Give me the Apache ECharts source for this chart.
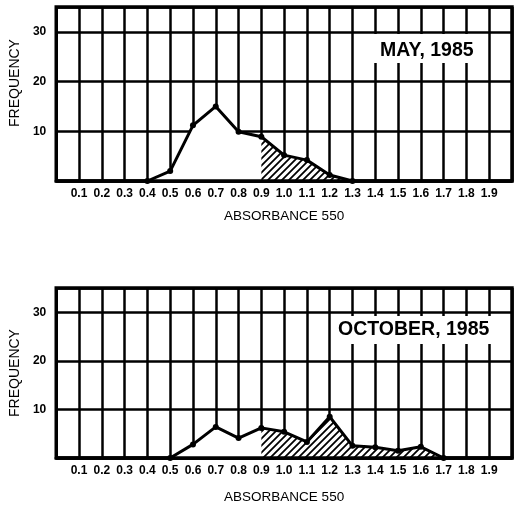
<!DOCTYPE html>
<html>
<head>
<meta charset="utf-8">
<script src="https://cdn.jsdelivr.net/npm/echarts@6/dist/echarts.min.js"></script>
<style>
  html, body { margin: 0; padding: 0; background: #fff; }
  #chart { width: 528px; height: 507px; }
</style>
</head>
<body>
<div id="chart"></div>
<script>
// absorbance classes (x) and frequencies
const mayX = [0.4, 0.5, 0.6, 0.7, 0.8, 0.9, 1.0, 1.1, 1.2, 1.3];
const mayFreq = [0, 2, 11.2, 15, 9.9, 8.9, 5.2, 4.2, 1.2, 0];
const octX = [0.5, 0.6, 0.7, 0.8, 0.9, 1.0, 1.1, 1.2, 1.3, 1.4, 1.5, 1.6, 1.7];
const octFreq = [0, 2.8, 6.4, 4.1, 6.2, 5.4, 3.3, 8.5, 2.5, 2.2, 1.5, 2.3, 0];
const hatchFrom = 0.9;
const yTicks = [10, 20, 30];
const panelTitles = ['MAY, 1985', 'OCTOBER, 1985'];

const FONT = '"Liberation Sans", Arial, sans-serif';

// diagonal hatch pattern with white ground
const makeHatch = () => {
  const s = 7;
  const c = document.createElement('canvas');
  c.width = s; c.height = s;
  const ctx = c.getContext('2d');
  ctx.fillStyle = '#fff';
  ctx.fillRect(0, 0, s, s);
  ctx.strokeStyle = '#000';
  ctx.lineWidth = 1.8;
  ctx.beginPath();
  ctx.moveTo(0, s); ctx.lineTo(s, 0);
  ctx.moveTo(-1, 1); ctx.lineTo(1, -1);
  ctx.moveTo(s - 1, s + 1); ctx.lineTo(s + 1, s - 1);
  ctx.stroke();
  return c;
};
const hatch = makeHatch();

const panels = [
  { xs: mayX, ys: mayFreq, grid: { left: 51, top: 7, width: 461, height: 174 }, namePad: [0, 0, 0, 22], xGap: 28,
    title: { left: 372, top: 34, padding: [7, 5, 2, 8] } },
  { xs: octX, ys: octFreq, grid: { left: 51, top: 288, width: 461, height: 170 }, namePad: 0, xGap: 32,
    title: { left: 333, top: 316, padding: [4, 8, 4, 5] } }
];

const grid = [], xAxis = [], yAxis = [], series = [], title = [];

panels.forEach((p, g) => {
  grid.push({ ...p.grid, show: true, borderColor: '#000', borderWidth: 3.5, backgroundColor: '#fff' });

  xAxis.push({
    type: 'value', gridIndex: g, min: 0, max: 2, interval: 0.1,
    name: 'ABSORBANCE 550', nameLocation: 'middle', nameGap: p.xGap,
    nameTextStyle: { fontFamily: FONT, fontSize: 13.5, color: '#000' },
    axisLine: { show: false }, axisTick: { show: false },
    axisLabel: {
      margin: 7, fontFamily: FONT, fontSize: 12, fontWeight: 'bold', color: '#000',
      formatter: v => (v > 0.05 && v < 1.95) ? v.toFixed(1) : ''
    },
    splitLine: { show: true, lineStyle: { color: '#000', width: 2.5 } }
  });
  // frame line drawn above the filled areas
  xAxis.push({
    type: 'value', gridIndex: g, min: 0, max: 2, position: 'bottom', z: 10,
    axisLine: { show: true, lineStyle: { color: '#000', width: 3.5 } },
    axisTick: { show: false }, axisLabel: { show: false }, splitLine: { show: false }
  });

  yAxis.push({
    type: 'value', gridIndex: g, min: 0, max: 35, interval: 10,
    name: 'FREQUENCY', nameLocation: 'middle', nameGap: 26,
    nameTextStyle: { fontFamily: FONT, fontSize: 14, color: '#000', padding: p.namePad },
    axisLine: { show: false }, axisTick: { show: false },
    axisLabel: {
      margin: 10, fontFamily: FONT, fontSize: 12, fontWeight: 'bold', color: '#000',
      formatter: v => yTicks.includes(v) ? String(v) : ''
    },
    splitLine: { show: true, lineStyle: { color: '#000', width: 2.5 } }
  });

  const pts = p.xs.map((x, i) => [x, p.ys[i]]);
  const hatched = pts.filter(d => d[0] >= hatchFrom - 1e-9);

  series.push({
    type: 'line', xAxisIndex: 2 * g, yAxisIndex: g, z: 2,
    data: pts, showSymbol: false, lineStyle: { width: 0 },
    areaStyle: { color: '#fff', opacity: 1 }, silent: true
  });
  series.push({
    type: 'line', xAxisIndex: 2 * g, yAxisIndex: g, z: 3,
    data: hatched, showSymbol: false, lineStyle: { width: 0 },
    areaStyle: { color: { image: hatch, repeat: 'repeat' }, opacity: 1 }, silent: true
  });
  series.push({
    type: 'line', xAxisIndex: 2 * g, yAxisIndex: g, z: 4,
    data: pts, symbol: 'circle', symbolSize: 6,
    itemStyle: { color: '#000' },
    lineStyle: { color: '#000', width: 3 }
  });

  title.push({
    text: panelTitles[g], ...p.title, backgroundColor: '#fff', z: 20,
    textStyle: { fontFamily: FONT, fontWeight: 'bold', fontSize: 19.5, lineHeight: 20, color: '#000' }
  });
});

const chart = echarts.init(document.getElementById('chart'));
chart.setOption({
  animation: false,
  backgroundColor: '#fff',
  title, grid, xAxis, yAxis, series
});
</script>
</body>
</html>
